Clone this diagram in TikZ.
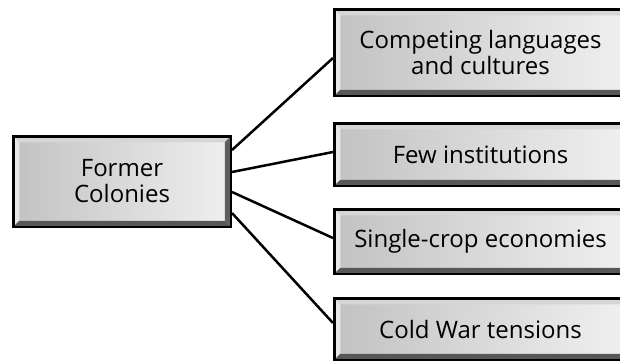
\documentclass[tikz,border=0pt]{standalone}
\usepackage{fontspec}
\newfontfamily\boxfont{Open Sans}
\usetikzlibrary{backgrounds}
\definecolor{faceL}{HTML}{C2C2C2}
\definecolor{faceR}{HTML}{F0F0F0}
\definecolor{bevT}{HTML}{D6D6D6}
\definecolor{bevL}{HTML}{E8E8E8}
\definecolor{bevB}{HTML}{575757}
\definecolor{bevR}{HTML}{5E5E5E}
\tikzset{
  bevbox/.style={rectangle, inner sep=0pt, align=center,
    font=\boxfont\fontsize{24}{26}\selectfont, text=black,
    left color=faceL, right color=faceR, draw=black, line width=2.5pt,
    path picture={
      \coordinate (pnw) at (path picture bounding box.north west);
      \coordinate (pse) at (path picture bounding box.south east);
      \coordinate (pne) at (pnw -| pse);
      \coordinate (psw) at (pnw |- pse);
      \fill[bevT] (pnw) -- (pne) -- ([shift={(-6pt,-6pt)}]pne) -- ([shift={(6pt,-6pt)}]pnw) -- cycle;
      \fill[bevL] (pnw) -- ([shift={(6pt,-6pt)}]pnw) -- ([shift={(6pt,6pt)}]psw) -- (psw) -- cycle;
      \fill[bevB] (psw) -- (pse) -- ([shift={(-6pt,6pt)}]pse) -- ([shift={(6pt,6pt)}]psw) -- cycle;
      \fill[bevR] (pse) -- (pne) -- ([shift={(-6pt,-6pt)}]pne) -- ([shift={(-6pt,6pt)}]pse) -- cycle;
    }},
  conn/.style={draw=black, line width=2.5pt}
}
\begin{document}
\begin{tikzpicture}[x=1pt, y=1pt]
\useasboundingbox (0,0) rectangle (620,360);
\clip (0,0) rectangle (620,360);
\node[bevbox, minimum width=217.5pt, minimum height=90.5pt] (L) at (122,178.5) {Former\\Colonies};
\node[bevbox, minimum width=292.5pt, minimum height=86.5pt] (R1) at (480.5,307.5) {Competing languages\\and cultures};
\node[bevbox, minimum width=292.5pt, minimum height=62.5pt] (R2) at (480.5,205.5) {Few institutions};
\node[bevbox, minimum width=292.5pt, minimum height=64.5pt] (R3) at (480.5,118.5) {Single-crop economies};
\node[bevbox, minimum width=292.5pt, minimum height=61.5pt] (R4) at (480.5,31) {Cold War tensions};
\begin{scope}[on background layer]
\fill[white] (0,0) rectangle (620,360);
\draw[conn] ([yshift=31.5pt]L.east) -- ([yshift=-5.5pt]R1.west);
\draw[conn] ([yshift=9.5pt]L.east) -- ([yshift=2.5pt]R2.west);
\draw[conn] ([yshift=-10.5pt]L.east) -- ([yshift=3.5pt]R3.west);
\draw[conn] ([yshift=-31.5pt]L.east) -- ([yshift=6pt]R4.west);
\end{scope}
\end{tikzpicture}
\end{document}
